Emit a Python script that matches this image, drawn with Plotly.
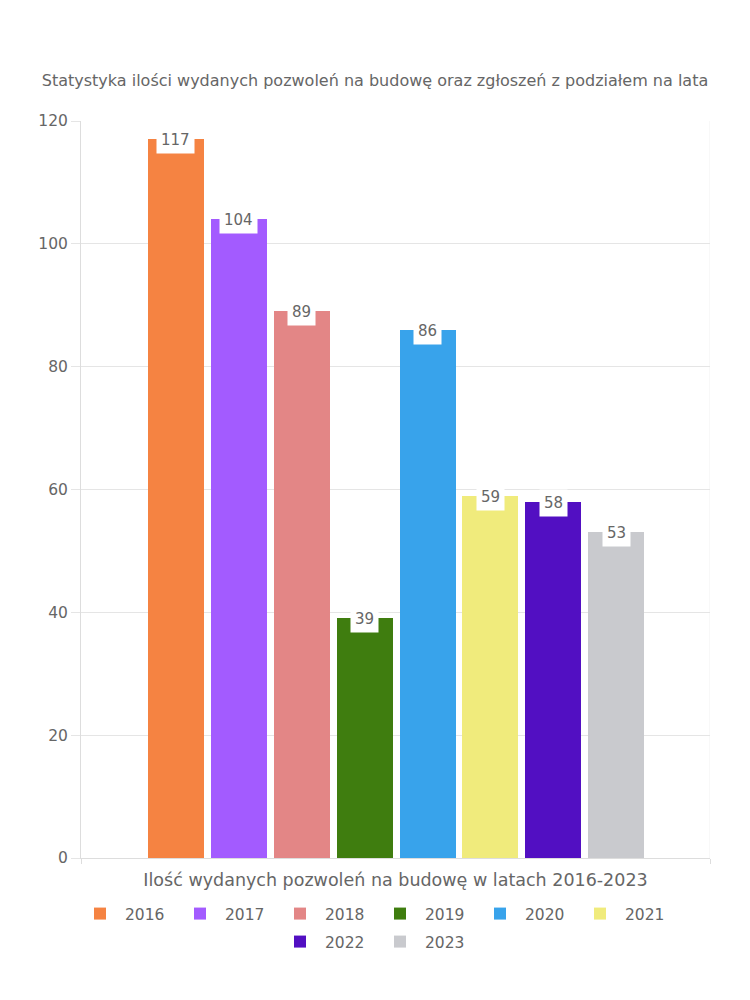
import plotly.graph_objects as go

years = ["2016", "2017", "2018", "2019", "2020", "2021", "2022", "2023"]
values = [117, 104, 89, 39, 86, 59, 58, 53]
colors = ["#F58342", "#A35BFF", "#E38686", "#3F7D0F", "#38A3EB", "#F0EB7C", "#520FC2", "#C9CACE"]
title = "Statystyka ilości wydanych pozwoleń na budowę oraz zgłoszeń z podziałem na lata"
x_title = "Ilość wydanych pozwoleń na budowę w latach 2016-2023"
y_ticks = [0, 20, 40, 60, 80, 100, 120]

FONT = "DejaVu Sans"
GRAY = "#666666"
ROW1 = 6  # legend items in first row

fig = go.Figure()
for i, (yr, v, c) in enumerate(zip(years, values, colors)):
    fig.add_trace(go.Bar(
        x=[i], y=[v], name=yr, marker=dict(color=c, line=dict(width=0)),
        width=0.89, hoverinfo="name+y",
        legend="legend" if i < ROW1 else "legend2",
    ))
    fig.add_annotation(
        x=i, y=v, xref="x", yref="y", text=str(v), showarrow=False,
        yanchor="middle", yshift=-1, bgcolor="white", borderpad=4,
        font=dict(family=FONT, size=15, color=GRAY),
    )

n = len(years)
x_lo, x_hi = -1.51, (n - 1) + 1.49

leg_common = dict(orientation="h", xref="container", x=0.5, xanchor="center",
                  yref="container", yanchor="top",
                  font=dict(family=FONT, size=15.5, color=GRAY),
                  entrywidth=45, itemwidth=40, traceorder="normal")

fig.update_layout(
    width=750, height=1000,
    margin=dict(l=81, r=40, t=121, b=142),
    paper_bgcolor="white", plot_bgcolor="white",
    font=dict(family=FONT, size=15, color=GRAY),
    title=dict(text=title, x=0.5, xref="container", y=1 - 80 / 1000, yref="container",
               yanchor="middle", xanchor="center",
               font=dict(family=FONT, size=16, color=GRAY)),
    showlegend=True,
    legend=dict(y=1 - 897 / 1000, **leg_common),
    legend2=dict(y=1 - 925 / 1000, **leg_common),
    bargap=0, barmode="overlay",
)
fig.update_xaxes(
    range=[x_lo, x_hi], tickvals=[x_lo, x_hi], ticktext=["", ""],
    ticks="outside", ticklen=5, tickcolor="#DDDDDD",
    showgrid=False, zeroline=False, showline=True, linecolor="#DDDDDD", linewidth=1,
    mirror=False,
    title=dict(text=x_title, standoff=7, font=dict(family=FONT, size=17.5, color=GRAY)),
    fixedrange=True,
)
fig.update_yaxes(
    range=[0, 120], tickvals=y_ticks, ticks="outside", ticklen=9, tickcolor="#E5E5E5",
    showgrid=True, gridcolor="#E5E5E5", gridwidth=1, zeroline=False,
    showline=True, linecolor="#DDDDDD", linewidth=1,
    tickfont=dict(family=FONT, size=15.5, color=GRAY), fixedrange=True,
)
fig.add_shape(type="line", xref="x", yref="paper", x0=x_hi, x1=x_hi, y0=0, y1=1,
              line=dict(color="#F0F0F0", width=1), layer="below")

fig.write_html("out.html")
